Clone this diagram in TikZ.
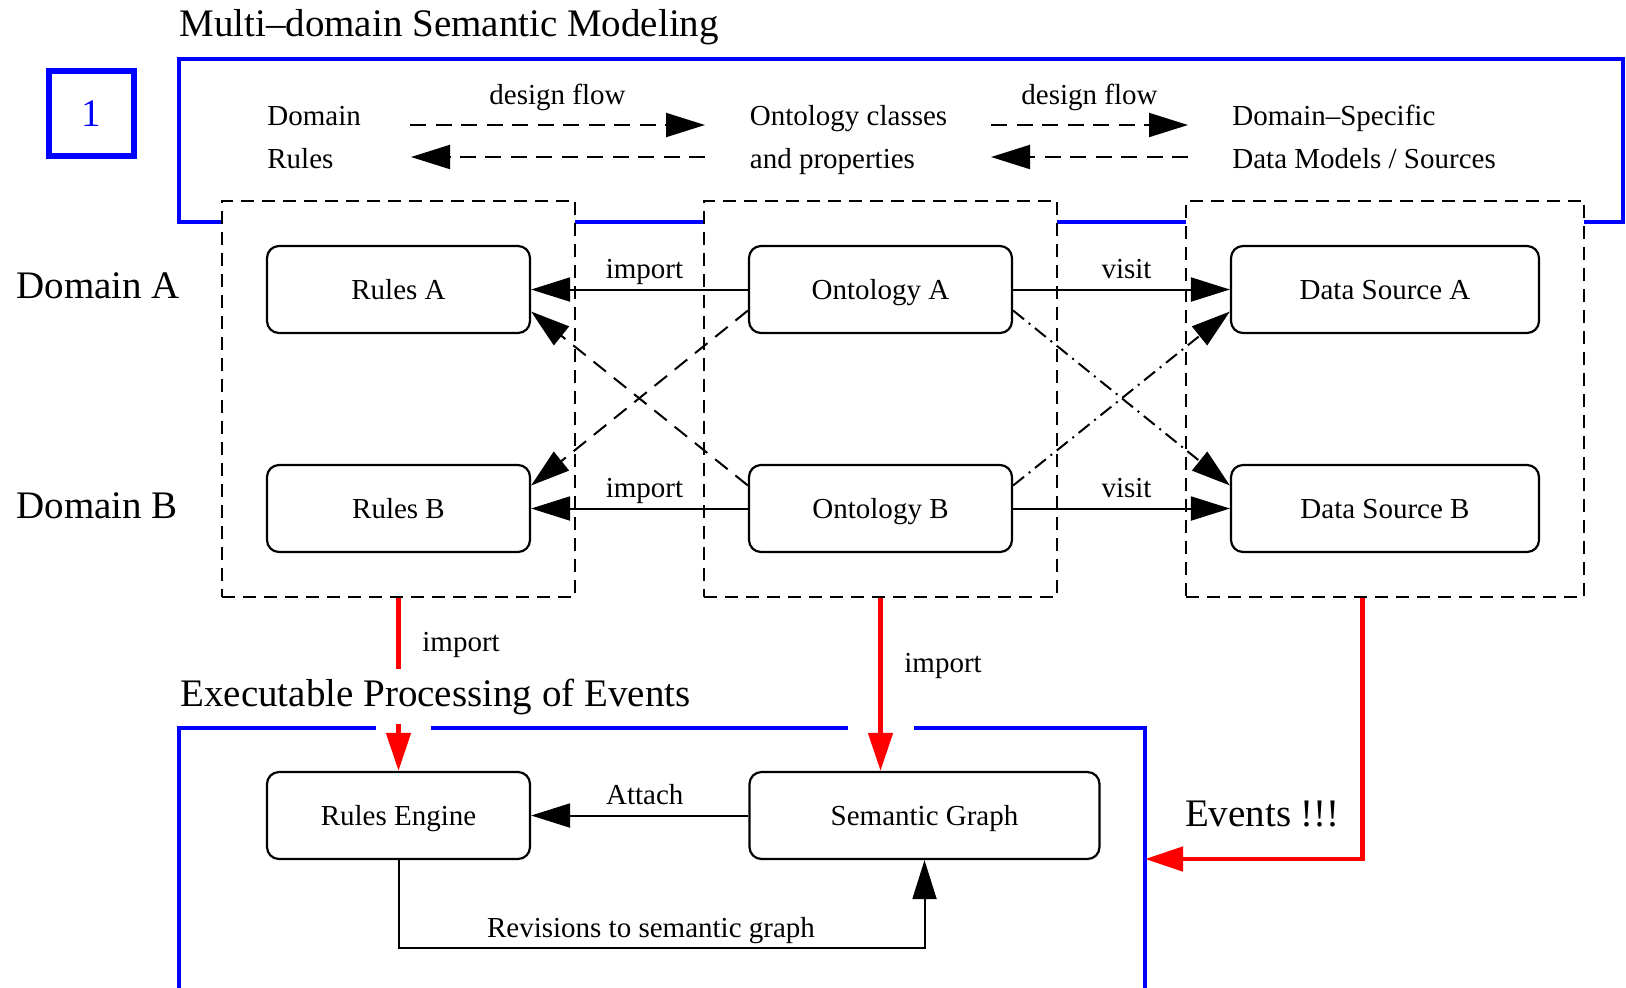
\documentclass[tikz,border=0pt]{standalone}
\usepackage{fontspec}
\setmainfont{Liberation Serif}
\usepackage{tikz}
\usetikzlibrary{arrows.meta, fit, backgrounds}
\newcommand{\figfont}{\fontsize{14.5pt}{17pt}\selectfont}
\newcommand{\figbigfont}{\fontsize{19.5pt}{23pt}\selectfont}
\tikzstyle{snode} =
[rectangle, rounded corners=6pt, minimum width = 131.5pt, minimum height = 43.5pt,
text centered, text height=10pt, text depth=0pt, draw=black, line width=1.1pt,
font=\figfont]
\tikzstyle{mnode} = [snode, minimum width = 154pt]
\tikzstyle{lnode} = [snode, minimum width = 175pt]
\tikzstyle{gbox} =
[rectangle, draw=black, fill=white, line width=1pt, dash pattern=on 6.5pt off 4pt,
inner sep=22pt]
\tikzstyle{onebox} =
[rectangle, draw=blue, text=blue, line width=3pt, minimum size=42.5pt,
inner sep=0pt, font=\figbigfont]
\tikzstyle{htext} = [inner sep=0pt, anchor=base west, font=\figfont]
\tikzstyle{btext} = [inner sep=0pt, anchor=base west, font=\figbigfont]
\tikzstyle{ltext} = [font=\figfont, inner sep=2pt, text depth=0.3em]
\tikzstyle{mlabel} = [ltext, above, xshift=2.5pt]
\tikzstyle{line} = [draw, line width=1pt, -{Triangle[length=19.5pt, width=12pt]}]
\tikzstyle{dline} = [line, dash pattern=on 8pt off 4.75pt]
\tikzstyle{xline} = [line, dash pattern=on 8pt off 5pt]
\tikzstyle{dxline} = [line, dash pattern=on 7pt off 3pt on 1pt off 3pt]
\tikzstyle{rline} = [draw=red, line width=2.4pt, -{Triangle[length=19pt, width=12pt]}]
\tikzstyle{bframe} = [draw=blue, line width=2.2pt]

\begin{document}
\begin{tikzpicture}[x=0.5pt, y=-0.5pt, node distance=109.5pt]
  \useasboundingbox (0,0) rectangle (1626,987);
  % titles and side labels
  \node [btext] (ttop) at (179,36) {Multi–domain Semantic Modeling};
  \node [onebox] (one) at (91.5,113.5) {1};
  \node [btext] (doma) at (16,298) {Domain A};
  \node [btext] (domb) at (16,518) {Domain B};
  %
  % design flow header
  \node [htext] (hdom) at (267,125) {Domain};
  \node [htext] (hrul) at (267,168) {Rules};
  \node [htext] (hont) at (749.5,125) {Ontology classes};
  \node [htext] (hprop) at (749.5,168) {and properties};
  \node [htext] (hspec) at (1232,125) {Domain–Specific};
  \node [htext] (hsrc) at (1232,168) {Data Models / Sources};
  \coordinate (dfa) at (410,125);
  \coordinate (dfb) at (705,125);
  \coordinate (dfc) at (705,157);
  \coordinate (dfd) at (411,157);
  \coordinate (dfe) at (991,125);
  \coordinate (dff) at (1188,125);
  \coordinate (dfg) at (1188,157);
  \coordinate (dfh) at (991,157);
  \path [dline] (dfa) -- node [ltext, above=5pt] {design flow} (dfb);
  \path [dline] (dfc) -- (dfd);
  \path [dline] (dfe) -- node [ltext, above=5pt] {design flow} (dff);
  \path [dline] (dfg) -- (dfh);
  %
  % domain nodes
  \node [snode] (rulesA) at (398.5,289.5) {Rules A};
  \node [snode, right of=rulesA, node distance=241pt] (ontA) {Ontology A};
  \node [mnode, right of=ontA, node distance=252.25pt] (dsA) {Data Source A};
  \node [snode, below of=rulesA] (rulesB) {Rules B};
  \node [snode, below of=ontA] (ontB) {Ontology B};
  \node [mnode, below of=dsA] (dsB) {Data Source B};
  %
  % frame and groups behind
  \begin{scope}[on background layer]
    \draw [bframe] (179,59) rectangle (1623,222);
    \node [gbox, fit=(rulesA) (rulesB)] (lbox) {};
    \node [gbox, fit=(ontA) (ontB)] (mbox) {};
    \node [gbox, fit=(dsA) (dsB)] (rbox) {};
  \end{scope}
  %
  % domain edges
  \path [line] (ontA) -- node [mlabel] {import} (rulesA);
  \path [line] (ontA) -- node [mlabel] {visit} (dsA);
  \path [line] (ontB) -- node [mlabel] {import} (rulesB);
  \path [line] (ontB) -- node [mlabel] {visit} (dsB);
  \path [xline] ([yshift=-10.5pt]ontA.west) -- ([yshift=11.5pt]rulesB.east);
  \path [xline] ([yshift=11.5pt]ontB.west) -- ([yshift=-11pt]rulesA.east);
  \path [dxline] ([yshift=-10.5pt]ontA.east) -- ([yshift=11.5pt]dsB.west);
  \path [dxline] ([yshift=11.5pt]ontB.east) -- ([yshift=-11pt]dsA.west);
  %
  % processing nodes
  \node [snode] (engine) at (398.5,815.5) {Rules Engine};
  \node [lnode, right of=engine, node distance=263pt] (graph) {Semantic Graph};
  \path [line] (graph) -- node [mlabel] {Attach} (engine);
  \path [line] (engine.south) -- ++(0,88) -| node [ltext, pos=0.24, above]
   {Revisions to semantic graph} (graph.south);
  %
  % red edges
  \coordinate (evin) at (1145,859);
  \path [rline] (lbox.south) -- node [pos=0.31, anchor=base west, xshift=7.75pt,
   inner sep=3pt, font=\figfont] {import} (engine.north);
  \path [rline] (mbox.south) -- node [pos=0.43, anchor=base west, xshift=7.75pt,
   inner sep=3pt, font=\figfont] {import} (mbox.south |- graph.north);
  \path [rline] ([xshift=-11.25pt]rbox.south) |- node [pos=0.73, above=12pt,
   inner sep=3pt, font=\figbigfont] {Events !!!} (evin);
  %
  % lower frame
  \node [btext, fill=white, inner ysep=5pt] (tbot) at (180,706)
   {Executable Processing of Events};
  \draw [bframe] (179,995) -- (179,728) -- (376,728);
  \draw [bframe] (431,728) -- (848,728);
  \draw [bframe] (914,728) -- (1145,728) -- (1145,995);
\end{tikzpicture}
\end{document}
